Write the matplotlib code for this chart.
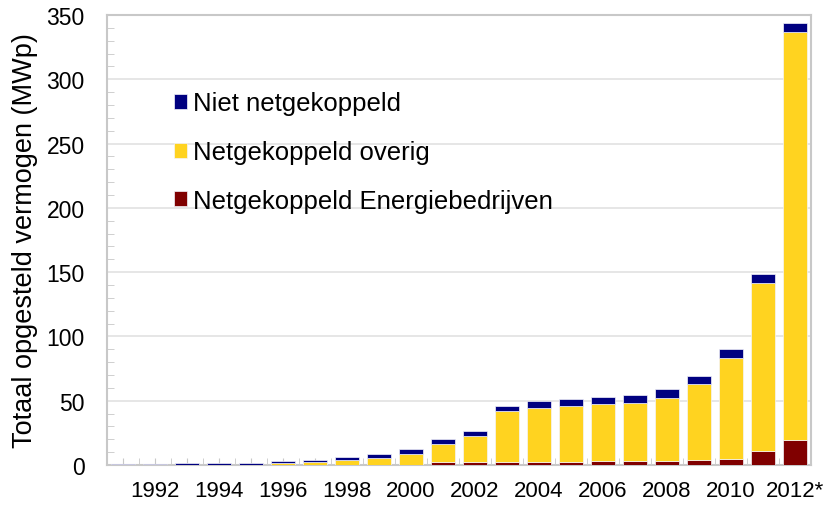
import numpy as np
import matplotlib
matplotlib.use("Agg")
import matplotlib.pyplot as plt
from matplotlib.ticker import MultipleLocator

plt.rcParams["font.family"] = ["Liberation Sans", "DejaVu Sans"]

# Data (MWp)
years = [str(y) for y in range(1991, 2012)] + ["2012*"]
energiebedrijven = [0, 0, 0, 0, 0, 0, 0, 0, 0, 0,
                    2.3, 2.3, 2.3, 2.6, 2.6, 3.0, 3.0, 3.4, 4.0, 5.0, 10.7, 19.5]
overig = [0.1, 0.2, 0.2, 0.3, 0.3, 1.3, 2.1, 3.6, 5.7, 8.6,
          14.3, 20.0, 39.4, 42.0, 43.5, 44.4, 45.2, 49.0, 59.0, 78.5, 130.9, 317.2]
niet_netgekoppeld = [0.3, 0.8, 1.0, 1.2, 1.5, 1.8, 1.8, 2.6, 3.1, 3.8,
                     3.6, 3.9, 4.2, 4.9, 5.2, 5.2, 6.2, 6.5, 6.0, 6.5, 7.0, 7.0]

tick_labels = ["" if i % 2 == 0 else lab for i, lab in enumerate(years)]

C_RED = "#800000"
C_YEL = "#FFD320"
C_BLUE = "#000080"
GRID = "#e2e2e2"
SPINE = "#c8c8c8"

fig = plt.figure(figsize=(8.27, 5.06), dpi=100)
ax = fig.add_axes([107 / 827, 40 / 506, 704 / 827, 450 / 506])

x = np.arange(len(years))
red = np.array(energiebedrijven)
yel = np.array(overig)
blu = np.array(niet_netgekoppeld)
w = 0.78
kw = dict(width=w, edgecolor="#f4f4fa", linewidth=0.5, zorder=3)
b1 = ax.bar(x, red, color=C_RED, label="Netgekoppeld Energiebedrijven", **kw)
b2 = ax.bar(x, yel, bottom=red, color=C_YEL, label="Netgekoppeld overig", **kw)
b3 = ax.bar(x, blu, bottom=red + yel, color=C_BLUE, label="Niet netgekoppeld", **kw)

ax.set_xlim(-0.5, len(years) - 0.5)
ax.set_ylim(0, 350)
ax.yaxis.set_major_locator(MultipleLocator(50))
ax.yaxis.set_minor_locator(MultipleLocator(10))
ax.grid(axis="y", color=GRID, linewidth=1.2, zorder=0)
ax.set_axisbelow(True)

ax.set_xticks(x)
ax.set_xticklabels(tick_labels, fontsize=16)
ax.set_xticks(np.arange(-0.5, len(years), 1.0), minor=True)
ax.tick_params(axis="x", which="both", direction="in", length=5, color=SPINE, pad=11)
ax.tick_params(axis="y", which="major", length=0, pad=16, labelsize=16.5)
ax.tick_params(axis="y", which="minor", direction="in", length=5, color=SPINE)

for s in ax.spines.values():
    s.set_color(SPINE)
    s.set_linewidth(1.5)

ax.set_ylabel("Totaal opgesteld vermogen (MWp)", fontsize=19.5, labelpad=6)

ax.legend(handles=[b3, b2, b1], loc="upper left", bbox_to_anchor=(0.095, 0.83),
          frameon=False, fontsize=18.5, handlelength=0.52, handleheight=0.52,
          handletextpad=0.23, labelspacing=0.96, borderpad=0, borderaxespad=0)

fig.savefig("out.png", dpi=100)
